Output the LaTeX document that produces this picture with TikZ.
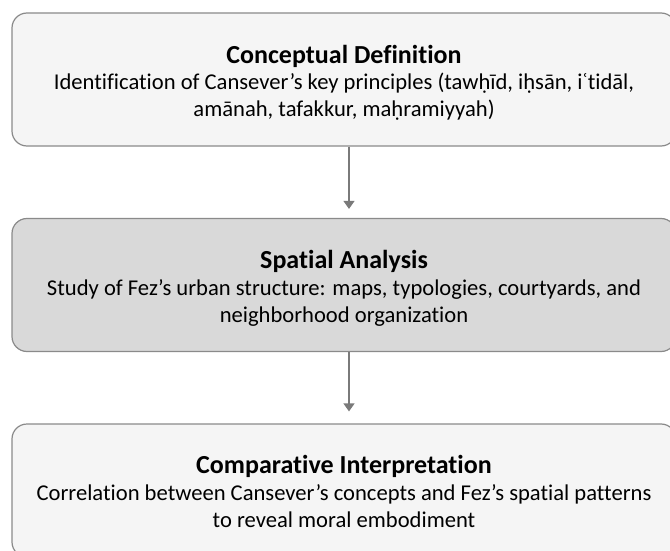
\documentclass[tikz,border=0pt]{standalone}
\usepackage{fontspec}
\setmainfont[Ligatures=NoCommon]{Carlito}
\usetikzlibrary{arrows.meta, positioning}

\definecolor{boxline}{HTML}{8A8A8A}
\definecolor{lightfill}{HTML}{F5F5F5}
\definecolor{darkfill}{HTML}{D9D9D9}
\definecolor{arrowgray}{HTML}{7A7A7A}

\newcommand{\stagetitle}[2]{\rule{0pt}{#1pt}{\fontsize{26}{27}\selectfont\bfseries #2}}
\newcommand{\stageend}{\rule[-8pt]{0pt}{8pt}}

\tikzset{
	stage/.style={draw=boxline, line width=1.2pt, rounded corners=15pt, fill=lightfill,
		minimum width=664pt, minimum height=133pt, align=center, font=\fontsize{22.6}{27}\selectfont},
	flow/.style={draw=arrowgray, line width=1.3pt, -{Triangle[width=11pt,length=8pt]}}
}

\begin{document}
\begin{tikzpicture}[x=1pt, y=-1pt]
	\useasboundingbox (0, 0) rectangle (670, 551);

	% the three stages
	\node[stage] (concept) at (344, 79.5) {\stagetitle{29}{Conceptual Definition}\\
		Identification of Cansever’s key principles (tawḥīd, iḥsān, iʿtidāl,\\
		amānah, tafakkur, maḥramiyyah)\stageend};
	\node[stage, fill=darkfill] (spatial) at (344, 285) {\stagetitle{28}{Spatial Analysis}\\
		Study of Fez’s urban structure: maps, typologies, courtyards, and\\
		neighborhood organization\stageend};
	\node[stage] (compare) at (344, 490.5) {\stagetitle{27}{Comparative Interpretation}\\
		Correlation between Cansever’s concepts and Fez’s spatial patterns\\
		to reveal moral embodiment\stageend};

	% arrows between them
	\draw[flow, shorten >=9pt] ([xshift=5pt]concept.south) -- ([xshift=5pt]spatial.north);
	\draw[flow, shorten >=12pt] ([xshift=5pt]spatial.south) -- ([xshift=5pt]compare.north);
\end{tikzpicture}
\end{document}
